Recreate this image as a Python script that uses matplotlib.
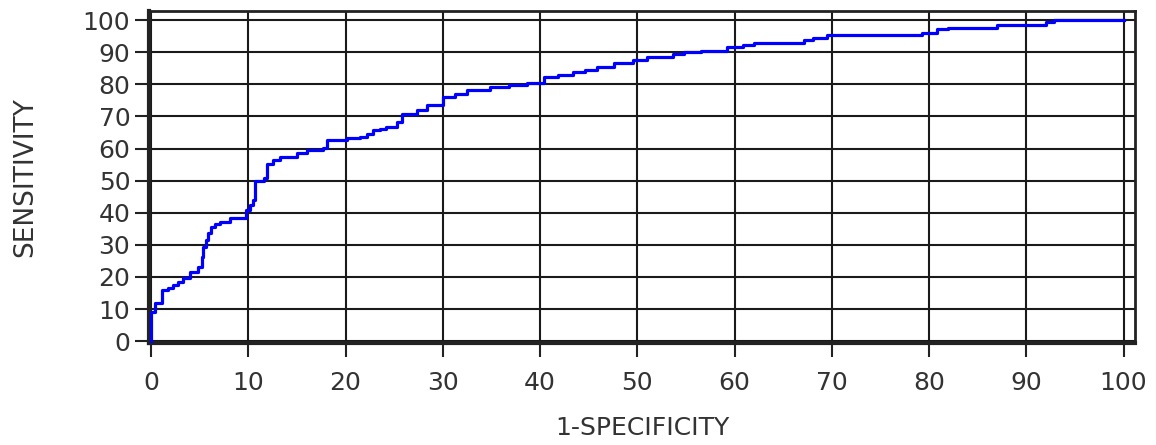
import matplotlib
matplotlib.use("Agg")
import matplotlib.pyplot as plt

# ROC curve: at each fpr the curve steps up to tpr
fpr = [0, 0, 0.4, 1.1, 1.7, 2.3, 2.8, 3.3, 4.0, 4.8, 5.2, 5.35, 5.6, 5.9,
       6.2, 6.6, 7.1, 8.1, 9.8, 10.2, 10.5, 10.7, 11.6, 11.9, 12.5, 13.3,
       15.0, 16.0, 17.7, 18.1, 20.1, 21.5, 22.2, 22.8, 23.5, 24.2, 25.3,
       25.8, 27.3, 28.4, 30.0, 31.3, 32.5, 34.9, 36.8, 38.7, 40.4, 41.8,
       43.4, 44.6, 45.9, 47.6, 49.6, 51.0, 53.7, 54.8, 56.5, 59.2, 60.9,
       62.0, 67.1, 68.1, 69.5, 79.3, 80.8, 81.9, 87.0, 92.0, 92.8, 100]
tpr = [0, 9.1, 11.8, 15.9, 16.7, 17.4, 18.4, 19.6, 21.6, 23.2, 26.3, 29.4,
       31.5, 33.6, 35.6, 36.4, 37.2, 38.4, 40.8, 42.5, 43.9, 50.0, 50.7,
       55.3, 56.3, 57.4, 58.5, 59.5, 60.1, 62.6, 63.2, 63.6, 64.6, 65.7,
       66.2, 66.8, 68.3, 70.9, 72.0, 73.5, 76.1, 77.0, 78.2, 79.2, 79.7,
       80.3, 82.3, 83.0, 83.9, 84.6, 85.4, 86.5, 87.5, 88.6, 89.6, 90.0,
       90.4, 91.7, 92.2, 93.0, 93.8, 94.3, 95.3, 95.9, 97.2, 97.6, 98.4,
       99.3, 100, 100]
ticks = list(range(0, 101, 10))

fig = plt.figure(figsize=(11.56, 4.45), dpi=100)
ax = fig.add_axes([0.129, 0.229, 0.853, 0.746])

ax.step(fpr, tpr, where="post", color="#0000ff", lw=2.3, zorder=3)

ax.set_xlim(-0.2, 101.2)
ax.set_ylim(-0.6, 102.8)
ax.set_xticks(ticks)
ax.set_yticks(ticks)
ax.grid(True, color="#1a1a1a", lw=1.5)
ax.set_axisbelow(True)
for s in ax.spines.values():
    s.set_linewidth(2)
    s.set_color("#222222")
ax.spines["left"].set_linewidth(3)
ax.spines["bottom"].set_linewidth(3)
ax.tick_params(axis="x", direction="out", length=10, width=1.5,
               color="#222222", labelsize=18, labelcolor="#333333", pad=10)
ax.tick_params(axis="y", direction="out", length=10, width=1.5,
               color="#222222", labelsize=18, labelcolor="#333333", pad=3.5)

ax.set_xlabel("1-SPECIFICITY", fontsize=18, color="#333333", labelpad=15)
ax.set_ylabel("SENSITIVITY", fontsize=19, color="#333333", labelpad=32)

fig.savefig("out.png", dpi=100)
